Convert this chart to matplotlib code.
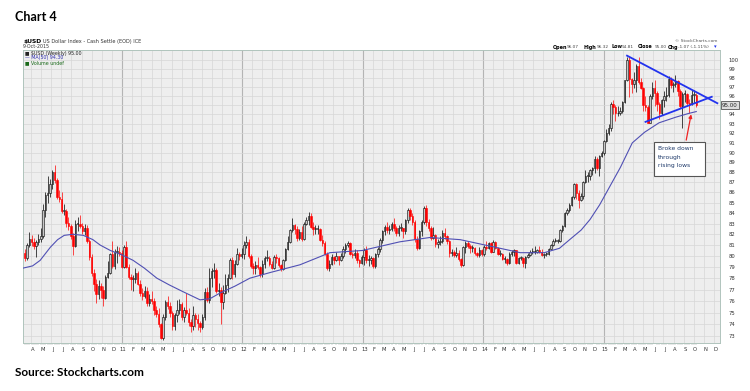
import numpy as np
import pandas as pd
import matplotlib
matplotlib.use('Agg')
import matplotlib.pyplot as plt
from matplotlib.patches import Rectangle

# close of the week before the first candle (open of the first candle)
first_open = 80.3

close_2010 = [79.8, 81.0, 81.6,
              81.3, 80.9, 81.3, 81.6, 81.8,
              84.3, 85.8, 85.9, 86.8,
              88.0, 87.2, 85.6, 85.4,
              84.2, 84.2, 83.1, 82.8, 81.8,
              80.9, 83.0, 83.0, 82.8,
              82.3, 82.6, 81.4, 79.9,
              78.5, 77.5, 76.6, 77.3, 77.0,
              76.3, 78.1, 78.5, 80.2,
              79.1, 80.4, 80.4, 80.3, 79.0]
high_2010 = [80.6, 81.2, 82.2,
             81.9, 81.7, 81.5, 82.0, 82.6,
             84.9, 86.0, 87.6, 87.3,
             88.2, 88.7, 87.4, 86.2,
             86.0, 84.9, 84.4, 83.6, 83.0,
             82.1, 83.3, 83.6, 83.8,
             83.1, 83.0, 82.9, 81.6,
             80.2, 78.8, 77.9, 77.8, 77.6,
             77.3, 78.3, 79.5, 80.3,
             81.4, 80.6, 80.9, 80.8, 80.5]
low_2010 = [79.5, 79.6, 80.8,
            80.9, 80.6, 79.9, 81.0, 81.3,
            81.7, 83.6, 85.0, 85.6,
            86.3, 86.9, 85.4, 85.1,
            84.0, 83.8, 82.7, 82.4, 81.6,
            80.1, 80.8, 82.3, 82.6,
            82.0, 81.9, 81.2, 79.6,
            78.2, 76.9, 75.8, 76.2, 76.3,
            75.6, 76.2, 78.0, 78.4,
            78.9, 78.8, 79.4, 80.0, 78.9]

close_2011 = [80.8, 79.0, 78.1, 77.9,
              77.9, 78.5, 77.5, 76.7,
              76.4, 76.9, 75.8, 76.2,
              76.0, 75.2, 74.9, 74.0, 72.9,
              74.6, 75.9, 75.6, 75.0,
              73.9, 74.8, 75.2, 75.7,
              74.6, 75.2, 75.0, 74.2, 73.9,
              74.8, 74.5, 74.1, 73.8,
              74.6, 76.8, 76.1, 78.0, 78.6,
              78.7, 76.9, 77.0, 75.9,
              76.7, 77.4, 78.0, 79.6,
              78.4, 79.3, 80.2, 80.0, 80.2]
high_2011 = [81.0, 81.4, 79.3, 78.4,
             78.3, 78.9, 78.6, 77.8,
             77.1, 77.3, 77.2, 76.6,
             76.9, 76.3, 75.6, 75.4, 74.1,
             74.9, 76.1, 76.4, 75.9,
             75.1, 75.0, 76.1, 76.2,
             75.9, 75.5, 76.7, 75.4, 74.5,
             75.6, 75.0, 74.9, 74.3,
             74.9, 77.1, 77.2, 78.9, 78.9,
             79.4, 78.9, 77.6, 77.2,
             77.4, 78.4, 78.4, 79.8,
             79.9, 79.6, 80.7, 80.4, 80.7]
low_2011 = [78.9, 78.9, 77.9, 77.0,
            76.9, 77.6, 77.4, 76.4,
            76.1, 76.3, 75.6, 75.6,
            75.7, 74.8, 74.6, 73.8, 72.8,
            72.7, 74.4, 75.3, 74.6,
            73.5, 73.5, 74.2, 74.9,
            74.4, 74.2, 74.8, 73.9, 73.4,
            73.5, 73.8, 73.5, 73.4,
            73.6, 74.4, 75.9, 75.8, 77.2,
            78.0, 76.7, 76.4, 74.0,
            75.3, 76.6, 76.8, 77.9,
            77.9, 78.1, 79.2, 79.6, 79.8]

close_2012 = [81.0, 81.3, 80.0, 79.1,
              78.9, 79.2, 79.0, 78.4,
              79.3, 79.8, 79.8, 79.3, 78.9,
              79.9, 79.8, 79.2, 78.8,
              79.6, 80.6, 81.3, 82.4,
              82.9, 82.5, 81.7, 82.2, 81.6,
              83.0, 83.3, 83.7, 82.7,
              82.5, 82.5, 82.5, 81.5, 81.2,
              80.2, 78.9, 79.3, 79.9,
              79.6, 80.0, 79.6, 80.0,
              80.6, 81.0, 81.2, 80.2, 80.1,
              80.3, 79.6, 79.4, 79.9]
high_2012 = [81.4, 81.8, 81.6, 80.2,
             79.4, 79.5, 79.9, 79.1,
             79.6, 80.0, 80.5, 80.0, 79.5,
             80.1, 80.2, 79.9, 79.3,
             79.7, 80.7, 81.8, 82.5,
             83.5, 83.0, 82.8, 82.5, 82.8,
             83.2, 83.6, 84.1, 84.0,
             83.2, 82.9, 82.9, 82.6, 81.9,
             81.4, 80.4, 79.6, 80.2,
             80.0, 80.4, 80.0, 80.3,
             80.9, 81.2, 81.4, 81.3, 80.4,
             80.6, 80.5, 79.7, 80.1]
low_2012 = [79.7, 80.7, 79.8, 78.9,
            78.4, 78.4, 78.8, 78.1,
            78.1, 78.9, 79.5, 79.1, 78.8,
            78.8, 79.4, 79.0, 78.6,
            78.7, 79.5, 80.5, 81.2,
            82.2, 82.0, 81.4, 81.5, 81.4,
            81.5, 82.9, 82.9, 82.6,
            81.9, 82.0, 82.0, 81.4, 80.9,
            80.1, 78.7, 78.6, 79.2,
            79.3, 79.5, 79.2, 79.5,
            79.8, 80.3, 80.8, 80.1, 79.8,
            79.8, 79.4, 79.0, 79.3]

close_2013 = [80.5, 79.6, 79.6, 79.8,
              79.1, 80.2, 80.6, 81.5,
              82.3, 82.7, 82.4, 82.5, 83.0,
              82.6, 82.1, 82.6, 82.6,
              82.3, 83.3, 84.3, 83.7, 83.2,
              81.6, 80.7, 82.3, 83.2,
              84.5, 83.2, 82.6, 81.7,
              81.9, 81.1, 81.3, 81.4, 82.1,
              81.8, 81.4, 80.3, 80.4,
              80.1, 80.3, 79.7, 79.2,
              80.8, 81.2, 80.9, 80.7, 80.7,
              80.3, 80.1, 80.5, 80.2]
high_2013 = [80.7, 80.9, 80.1, 80.0,
             79.9, 80.3, 80.8, 81.7,
             82.4, 82.9, 83.2, 82.9, 83.2,
             83.5, 82.8, 82.9, 83.1,
             82.6, 83.4, 84.5, 84.5, 84.0,
             83.3, 81.8, 82.4, 83.3,
             84.7, 84.8, 83.4, 82.8,
             82.7, 82.0, 81.6, 81.8, 82.4,
             82.6, 81.9, 81.5, 80.6,
             80.5, 80.8, 80.5, 79.8,
             80.9, 81.4, 81.4, 81.1, 81.0,
             80.8, 80.4, 80.8, 80.6]
low_2013 = [79.2, 79.4, 79.1, 79.3,
            78.9, 78.9, 79.9, 80.4,
            81.2, 81.9, 82.1, 82.0, 82.3,
            82.3, 81.8, 81.8, 82.3,
            81.7, 82.0, 83.1, 83.3, 82.9,
            81.3, 80.5, 80.6, 81.8,
            83.0, 82.8, 82.3, 81.5,
            81.6, 80.8, 80.7, 81.0, 81.2,
            81.6, 81.1, 79.9, 80.0,
            79.9, 79.9, 79.5, 79.0,
            79.1, 80.3, 80.7, 80.3, 80.4,
            80.1, 79.9, 79.9, 80.0]

close_2014 = [80.8, 80.7, 81.2, 80.4, 81.3,
              80.7, 80.2, 80.2, 79.7,
              79.7, 79.4, 80.2, 80.4,
              80.5, 79.4, 79.8, 79.8,
              79.4, 79.9, 80.1, 80.4, 80.4,
              80.4, 80.5, 80.4, 80.1,
              80.2, 80.2, 80.6, 81.0,
              81.4, 81.4, 81.4, 82.4, 82.8,
              84.0, 84.3, 84.8, 85.6,
              86.8, 85.9, 85.3, 85.7, 87.0,
              87.6, 87.6, 88.2, 88.4,
              89.3, 88.4, 89.6, 90.0]
high_2014 = [81.0, 81.4, 81.3, 81.3, 81.5,
             81.4, 80.8, 80.5, 80.3,
             80.0, 79.8, 80.4, 80.5,
             80.6, 80.5, 79.9, 80.0,
             79.9, 80.0, 80.3, 80.5, 80.7,
             80.9, 80.6, 80.9, 80.6,
             80.3, 80.4, 80.7, 81.1,
             81.6, 81.7, 81.6, 82.5, 82.9,
             84.1, 84.5, 85.0, 85.7,
             86.9, 86.9, 86.2, 85.9, 87.1,
             88.2, 88.0, 88.3, 88.5,
             89.6, 89.5, 89.7, 90.2]
low_2014 = [80.0, 80.5, 80.6, 80.3, 80.4,
            80.6, 80.1, 80.0, 79.6,
            79.4, 79.2, 79.3, 80.0,
            80.0, 79.3, 79.3, 79.6,
            79.0, 78.9, 79.8, 80.0, 80.2,
            80.2, 80.3, 80.3, 80.0,
            79.8, 80.0, 80.1, 80.6,
            80.9, 81.3, 81.2, 81.3, 82.2,
            82.7, 83.8, 84.1, 84.7,
            85.4, 85.4, 84.5, 85.2, 85.4,
            86.9, 87.0, 87.2, 87.7,
            87.9, 88.2, 87.6, 89.5]

close_2015 = [91.2, 92.0, 92.5, 95.1, 94.8,
              94.1, 94.1, 94.4, 95.3,
              97.7, 100.0, 97.9, 97.3,
              97.8, 99.3, 97.5, 96.9,
              95.0, 94.8, 93.1, 96.0, 96.9,
              96.3, 95.1, 94.1, 95.5,
              96.0, 96.1, 97.9, 97.2, 97.3,
              97.6, 96.5, 94.9, 96.2,
              96.2, 95.2, 95.1, 96.1,
              96.1, 95.0]
high_2015 = [91.3, 92.4, 93.0, 95.3, 95.5,
             95.0, 94.9, 94.8, 95.4,
             97.8, 100.4, 100.3, 98.0,
             98.7, 99.5, 100.3, 98.0,
             97.0, 96.0, 95.0, 96.2, 97.5,
             97.7, 96.5, 95.3, 95.7,
             96.5, 97.0, 98.2, 98.1, 97.5,
             98.3, 97.7, 96.8, 96.4,
             96.7, 96.3, 95.7, 96.6,
             96.6, 96.3]
low_2015 = [89.7, 91.1, 91.8, 92.2, 94.0,
            93.3, 93.8, 93.9, 94.2,
            95.2, 97.6, 95.9, 96.3,
            96.9, 96.4, 97.3, 96.8,
            94.4, 94.4, 93.1, 93.1, 95.7,
            94.9, 94.4, 93.5, 93.9,
            94.8, 95.4, 95.9, 96.9, 96.4,
            97.0, 96.0, 94.7, 92.6,
            95.3, 95.0, 94.1, 95.0,
            95.2, 94.8]

# moving average line
ma_dates = ['2010-03-07', '2010-04-05', '2010-04-28', '2010-05-29', '2010-06-20',
            '2010-07-10', '2010-08-05', '2010-09-06', '2010-10-05', '2010-10-27',
            '2010-11-27', '2011-01-01', '2011-02-04', '2011-03-10', '2011-04-17',
            '2011-05-25', '2011-07-06', '2011-08-26', '2011-09-25', '2011-10-26',
            '2011-12-10', '2012-01-24', '2012-03-25', '2012-06-24', '2012-09-23',
            '2012-12-30', '2013-04-23', '2013-07-23', '2013-10-23', '2014-01-22',
            '2014-04-23', '2014-07-05', '2014-08-20', '2014-09-20', '2014-10-25',
            '2014-11-21', '2014-12-20', '2015-01-20', '2015-02-21', '2015-03-29',
            '2015-05-05', '2015-06-18', '2015-08-08', '2015-09-16', '2015-10-09']
ma_vals = [78.9, 79.1, 79.6, 80.8, 81.5,
           81.9, 82.0, 81.9, 81.5, 81.0,
           80.5, 80.1, 79.6, 78.9, 78.0,
           77.4, 76.8, 76.1, 76.2, 76.7,
           77.3, 78.0, 78.5, 79.2, 80.3,
           80.5, 81.3, 81.7, 81.5, 80.9,
           80.3, 80.3, 80.7, 81.5, 82.4,
           83.4, 84.8, 86.6, 88.5, 91.0,
           92.1, 93.1, 93.7, 94.1, 94.3]

# hand-drawn triangle lines and annotation
upper_line_dates = ['2015-03-13', '2015-12-12']
upper_line_vals = [100.5, 95.2]
lower_line_dates = ['2015-05-08', '2015-11-25']
lower_line_vals = [93.2, 95.9]
arrow_from = ('2015-09-07', 91.0)
arrow_to = ('2015-09-25', 94.3)
y_ticks = [v for v in range(73, 101) if v != 95]

closes = np.array(close_2010 + close_2011 + close_2012 + close_2013 + close_2014 + close_2015)
highs = np.array(high_2010 + high_2011 + high_2012 + high_2013 + high_2014 + high_2015)
lows = np.array(low_2010 + low_2011 + low_2012 + low_2013 + low_2014 + low_2015)
opens = np.concatenate([[first_open], closes[:-1]])
dates = pd.date_range('2010-03-12', periods=len(closes), freq='W-FRI')

W, H = 750, 391
fig = plt.figure(figsize=(7.5, 3.91), dpi=100)
ax = fig.add_axes([23 / W, 1 - 343 / H, 697 / W, 293 / H])
ax.set_facecolor('#eeeeee')
ax.set_yscale('log')
ax.set_ylim(72.45, 101.15)
ax.set_xlim(pd.Timestamp('2010-03-07'), pd.Timestamp('2015-12-20'))

# grid
months = pd.date_range('2010-04-01', '2015-12-01', freq='MS')
for m in months:
    if m.month == 1:
        ax.axvline(m, color='#b4b4b4', lw=0.8, zorder=0)
    else:
        ax.axvline(m, color='#d6d6d6', lw=0.5, zorder=0)
for v in range(73, 101):
    ax.axhline(v, color='#d6d6d6', lw=0.5, zorder=0)

# candles
up = closes >= opens
col = np.where(up, 'black', '#ff0000')
ax.vlines(dates, lows, highs, colors=col, lw=0.5, zorder=2)
body_lo = np.minimum(opens, closes)
body_h = np.maximum(np.abs(closes - opens), 0.08)
ax.bar(dates[up], body_h[up], bottom=body_lo[up], width=4.5,
       color='#c8c8c8', edgecolor='black', linewidth=0.4, zorder=3)
ax.bar(dates[~up], body_h[~up], bottom=body_lo[~up], width=4.5,
       color='#ff0000', edgecolor='#ff0000', linewidth=0.4, zorder=3)

ax.plot(pd.to_datetime(ma_dates), ma_vals, color='#5050b4', lw=0.8, zorder=4)

# trend lines
ax.plot(pd.to_datetime(upper_line_dates), upper_line_vals, color='#2233ee', lw=1.3, zorder=5)
ax.plot(pd.to_datetime(lower_line_dates), lower_line_vals, color='#2233ee', lw=1.3, zorder=5)
ax.annotate('', xy=(pd.Timestamp(arrow_to[0]), arrow_to[1]),
            xytext=(pd.Timestamp(arrow_from[0]), arrow_from[1]),
            arrowprops=dict(arrowstyle='-|>', color='#ee2222', lw=0.9, mutation_scale=5),
            zorder=6)

# axes styling
for s in ax.spines.values():
    s.set_color('#b0c4bc')
    s.set_linewidth(0.7)
ax.yaxis.tick_right()
ax.set_yticks(y_ticks)
ax.set_yticklabels([str(v) for v in y_ticks])
ax.yaxis.set_minor_locator(matplotlib.ticker.NullLocator())
ax.tick_params(axis='y', length=0, labelsize=3.8, pad=6, labelcolor='#333333')

labels = [m.strftime('%y') if m.month == 1 else m.strftime('%b')[0] for m in months]
ax.set_xticks(months + pd.Timedelta(days=4))
ax.set_xticklabels(labels)
ax.set_xticks(dates, minor=True)
ax.tick_params(axis='x', which='major', length=0, labelsize=3.8, pad=3, labelcolor='#333333')
ax.tick_params(axis='x', which='minor', length=1.5, width=0.3, color='#999999')

# price box on right axis
ax.text(1.003, closes[-1], '%.2f' % closes[-1], transform=ax.get_yaxis_transform(),
        fontsize=4, va='center', ha='left', color='#222222',
        bbox=dict(boxstyle='square,pad=0.25', fc='#dddddd', ec='#555555', lw=0.6))


def ftext(x, y, s, **kw):
    kw.setdefault('va', 'center')
    fig.text(x / W, 1 - y / H, s, **kw)


ftext(15, 17, 'Chart 4', fontsize=9, fontweight='bold', family='Lato')
ftext(15, 372, 'Source: Stockcharts.com', fontsize=8.5, fontweight='bold', family='Lato')

ftext(23, 41.5, r'\$USD', fontsize=4.3, fontweight='bold')
ftext(43, 41.5, 'US Dollar Index - Cash Settle (EOD) ICE', fontsize=3.6, color='#333333')
ftext(23, 47, '9-Oct-2015', fontsize=3.4, color='#333333')
ftext(717, 41.5, '© StockCharts.com', fontsize=3.2, color='#555555', ha='right')
hdr = [(553, 'Open', '96.07'), (583, 'High', '96.32'), (611, 'Low', '94.81'),
       (638, 'Close', '95.00'), (668, 'Chg', '-1.07 (-1.11%)')]
for x0, lab, val in hdr:
    ftext(x0, 47, lab, fontsize=3.5, fontweight='bold')
    ftext(x0 + 3.0 * len(lab) + 1.5, 47, val, fontsize=3.1, color='#444444')
ftext(714, 47, '▾', fontsize=3.8, color='#2233ee')

ftext(25, 53.5, '■ \\$USD (Weekly) %.2f' % closes[-1], fontsize=3.4, color='#222222')
ftext(25, 58, '— MA(50) %.2f' % ma_vals[-1], fontsize=3.4, color='#3030b0')
ftext(25, 62.5, '■ Volume undef', fontsize=3.4, color='#1a6a1a')

# annotation box
fig.patches.append(Rectangle((654 / W, 1 - 176 / H), 51 / W, 34 / H, transform=fig.transFigure,
                             fc='white', ec='#555555', lw=0.8, zorder=7))
ftext(658, 148, 'Broke down', fontsize=4.3, color='#1f3a6a', zorder=8)
ftext(658, 157, 'through', fontsize=4.3, color='#1f3a6a', zorder=8)
ftext(658, 166, 'rising lows', fontsize=4.3, color='#1f3a6a', zorder=8)

fig.savefig('out.png', dpi=100)
